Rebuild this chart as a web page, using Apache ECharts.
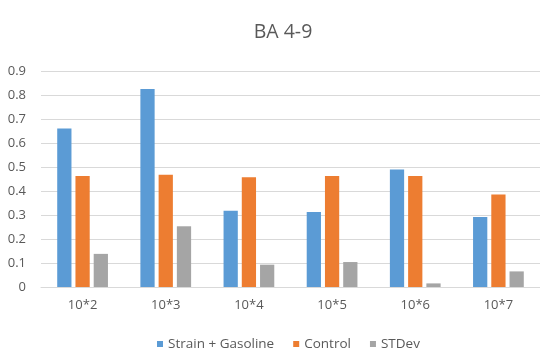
<!DOCTYPE html>
<html>
<head>
<meta charset="utf-8">
<script src="https://cdn.jsdelivr.net/npm/echarts@6/dist/echarts.min.js"></script>
<style>html,body{margin:0;padding:0;background:#fff;}#c{width:540px;height:349px;}</style>
</head>
<body>
<div id="c"></div>
<script>
const categories = ['10*2', '10*3', '10*4', '10*5', '10*6', '10*7'];
const strainGasoline = [0.66, 0.825, 0.318, 0.313, 0.49, 0.292];
const control = [0.462, 0.468, 0.457, 0.462, 0.462, 0.385];
const stdev = [0.138, 0.253, 0.093, 0.104, 0.015, 0.065];
const seriesNames = ['Strain + Gasoline', 'Control', 'STDev'];

const chart = echarts.init(document.getElementById('c'), null, {renderer: 'canvas'});
const font = 'Open Sans';
const mk = (name, data, color) => ({
  name, type: 'bar', data,
  itemStyle: {color},
  barGap: '28%', barCategoryGap: '39%',
  animation: false
});
chart.setOption({
  animation: false,
  title: {
    text: 'BA 4-9', left: 278, top: 17, textAlign: 'center',
    textStyle: {fontFamily: font, fontSize: 19.5, fontWeight: 'normal', color: '#595959'}
  },
  legend: {
    data: seriesNames, top: 332, left: 152,
    itemWidth: 6, itemHeight: 6, itemGap: 19, icon: 'rect',
    textStyle: {fontFamily: font, fontSize: 13.5, color: '#595959'}
  },
  grid: {left: 41, top: 71, width: 512, height: 216, containLabel: false},
  xAxis: {
    type: 'category', data: categories,
    axisLine: {lineStyle: {color: '#D9D9D9'}},
    axisTick: {show: false},
    axisLabel: {fontFamily: font, fontSize: 13, color: '#595959', margin: 12}
  },
  yAxis: {
    type: 'value', min: 0, max: 0.9, interval: 0.1,
    axisLine: {show: false}, axisTick: {show: false},
    splitLine: {lineStyle: {color: '#D9D9D9'}},
    axisLabel: {fontFamily: font, fontSize: 13, color: '#595959', margin: 15,
      formatter: v => v === 0 ? '0' : (Math.round(v * 10) / 10).toString()}
  },
  series: [
    mk(seriesNames[0], strainGasoline, '#5B9BD5'),
    mk(seriesNames[1], control, '#ED7D31'),
    mk(seriesNames[2], stdev, '#A5A5A5')
  ]
});
</script>
</body>
</html>
